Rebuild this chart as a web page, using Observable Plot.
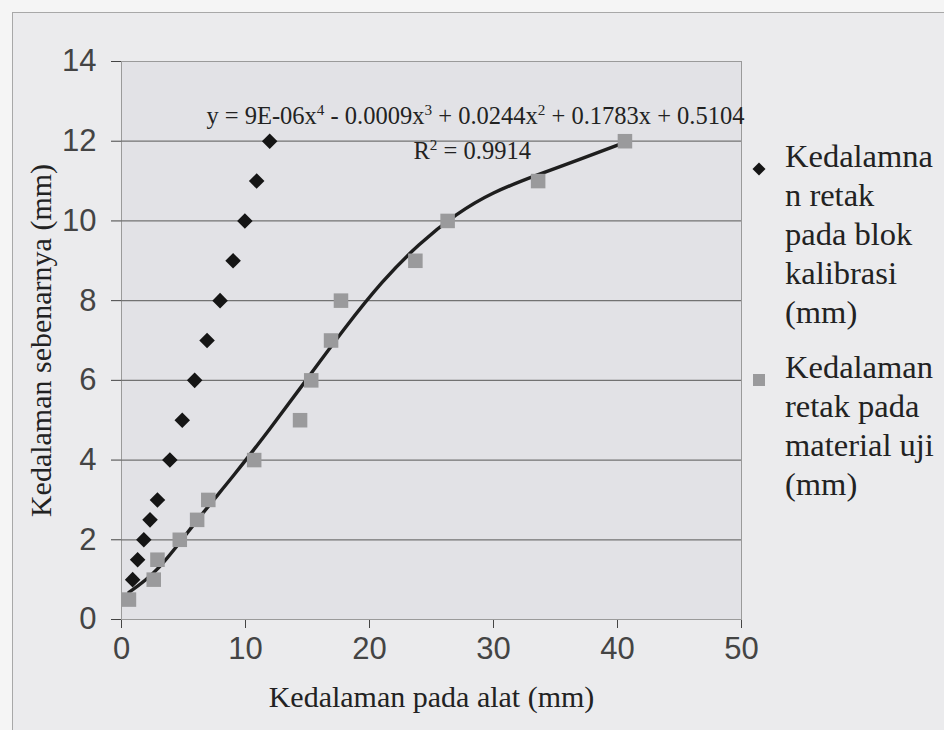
<!DOCTYPE html>
<html><head><meta charset="utf-8">
<script src="https://cdn.jsdelivr.net/npm/d3@7"></script>
<script src="https://cdn.jsdelivr.net/npm/@observablehq/plot@0.6"></script>
<style>
html,body{margin:0;padding:0;width:944px;height:730px;overflow:hidden;background:#f5f5f5;}
#wrap{position:relative;width:944px;height:730px;}
#bg{position:absolute;left:12px;top:12px;right:0;bottom:0;background:#ebebed;border-left:1px solid #a8a8a8;border-top:1px solid #a8a8a8;}
#chart{position:absolute;left:0;top:0;}
#legend{position:absolute;left:751px;top:137px;font-family:"Liberation Serif",serif;font-size:32.5px;line-height:39px;color:#222;}
.item{position:relative;padding-left:34px;margin-bottom:16px;}
.sym{position:absolute;left:0;top:10px;}
</style></head>
<body><div id="wrap"><div id="bg"></div><div id="chart"></div><div id="legend"></div></div>
<script>
// Series 1: Kedalaman retak pada blok kalibrasi (mm)
const calX = [0.9, 1.3, 1.8, 2.3, 2.9, 3.9, 4.9, 5.9, 6.9, 7.95, 9.0, 9.95, 10.9, 11.95];
const calY = [1, 1.5, 2, 2.5, 3, 4, 5, 6, 7, 8, 9, 10, 11, 12];
// Series 2: Kedalaman retak pada material uji (mm)
const testX = [0.6, 2.6, 2.9, 4.7, 6.1, 7.0, 10.7, 14.4, 15.3, 16.9, 17.7, 23.7, 26.3, 33.6, 40.6];
const testY = [0.5, 1, 1.5, 2, 2.5, 3, 4, 5, 6, 7, 8, 9, 10, 11, 12];
// Polynomial trendline, points
const trendX = [0.6, 3, 6, 9, 12, 15, 18, 21, 24, 27, 30, 33.5, 37, 40.6];
const trendY = [0.68, 1.3, 2.45, 3.6, 4.8, 6.05, 7.3, 8.45, 9.4, 10.15, 10.7, 11.15, 11.55, 11.97];
const xTicks = [0, 10, 20, 30, 40, 50];
const yTicks = [0, 2, 4, 6, 8, 10, 12, 14];
const gridValues = [2, 4, 6, 8, 10, 12];
const xTitle = "Kedalaman pada alat (mm)";
const yTitle = "Kedalaman sebenarnya (mm)";
const equationParts = ["y = 9E-06x", "4", " - 0.0009x", "3", " + 0.0244x", "2", " + 0.1783x + 0.5104"];
const r2Parts = ["R", "2", " = 0.9914"];
const legendLines = [
  ["Kedalamna", "n retak", "pada blok", "kalibrasi", "(mm)"],
  ["Kedalaman", "retak pada", "material uji", "(mm)"]
];

const cal = calX.map((x, i) => ({x, y: calY[i]}));
const test = testX.map((x, i) => ({x, y: testY[i]}));
const trend = trendX.map((x, i) => ({x, y: trendY[i]}));

const plot = Plot.plot({
  width: 944,
  height: 730,
  marginLeft: 121,
  marginRight: 203,
  marginTop: 61,
  marginBottom: 111,
  style: {fontFamily: "'Liberation Sans', Arial, sans-serif", fontSize: "31px", color: "#444", background: "transparent", overflow: "visible"},
  x: {domain: [0, 50], ticks: xTicks, tickSize: 9, tickPadding: 8, label: null, line: true},
  y: {domain: [0, 14], ticks: yTicks, tickSize: 10, tickPadding: 15, label: null, line: true},
  marks: [
    Plot.frame({fill: "#e2e2e6", stroke: "#9a9a9a"}),
    Plot.ruleY(gridValues, {stroke: "#727272", strokeWidth: 1.3}),
    Plot.line(trend, {x: "x", y: "y", curve: "natural", stroke: "#1e1e1e", strokeWidth: 3.4}),
    Plot.dot(test, {x: "x", y: "y", symbol: "square", r: 8.2, fill: "#9a9a9c", stroke: "none"}),
    Plot.dot(cal, {x: "x", y: "y", symbol: "diamond2", r: 7, fill: "#151515", stroke: "none"}),
    Plot.text([equationParts.join("")], {frameAnchor: "top-right", textAnchor: "end", lineAnchor: "middle", dx: 3, dy: 55, fontFamily: "'Liberation Serif', serif", fontSize: 24.5, fill: "#222"}),
    Plot.text([r2Parts.join("")], {frameAnchor: "top-left", textAnchor: "start", lineAnchor: "middle", dx: 292, dy: 90, fontFamily: "'Liberation Serif', serif", fontSize: 24.5, fill: "#222"}),
    Plot.text([xTitle], {frameAnchor: "bottom", lineAnchor: "middle", dy: 78, fontFamily: "'Liberation Serif', serif", fontSize: 30, fill: "#222"}),
    Plot.text([yTitle], {frameAnchor: "left", textAnchor: "middle", lineAnchor: "middle", rotate: -90, dx: -80, fontFamily: "'Liberation Serif', serif", fontSize: 30, fill: "#222"})
  ]
});
document.getElementById("chart").appendChild(plot);

// superscripts
function supText(parts) {
  const full = parts.join("");
  d3.select(plot).selectAll("text").filter(function () { return this.textContent === full; }).each(function () {
    const t = d3.select(this);
    t.text(null);
    parts.forEach((p, i) => {
      const ts = t.append("tspan").text(p);
      if (i % 2 === 1) ts.attr("font-size", "0.62em").attr("dy", "-0.6em");
      else if (i > 0) ts.attr("dy", "0.372em");
    });
  });
}
supText(equationParts);
supText(r2Parts);

// tick label colour
d3.select(plot).selectAll("g[aria-label$='axis'] text").attr("fill", "#2e2e2e");

// legend
const legend = document.getElementById("legend");
const syms = [
  '<svg width="16" height="16"><path d="M8,1.5L14.5,8L8,14.5L1.5,8Z" fill="#151515"/></svg>',
  '<svg width="16" height="16"><rect x="2" y="2" width="12" height="12" fill="#9a9a9c"/></svg>'
];
legendLines.forEach((lines, i) => {
  const d = document.createElement("div");
  d.className = "item";
  d.innerHTML = `<span class="sym">${syms[i]}</span>` + lines.join("<br>");
  legend.appendChild(d);
});
</script>
</body></html>
